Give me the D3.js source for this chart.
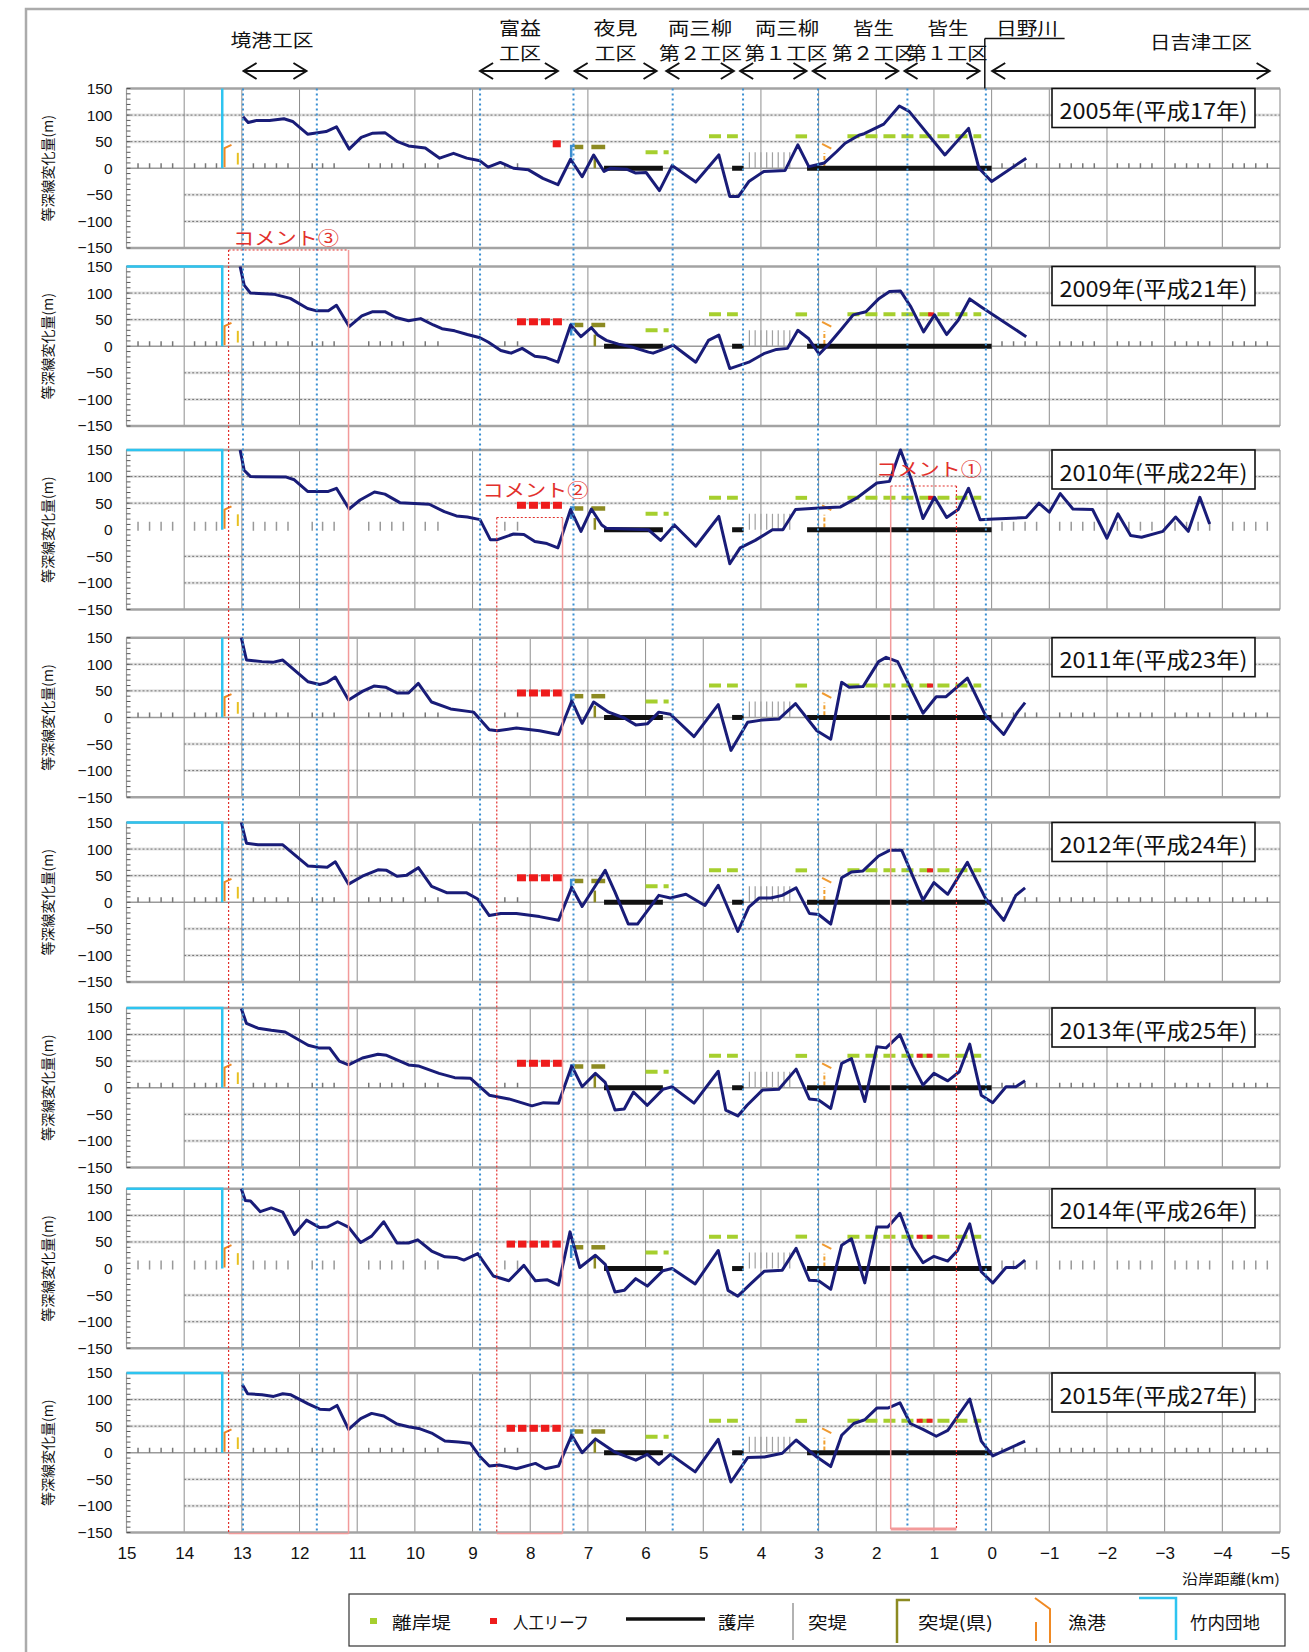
<!DOCTYPE html>
<html><head><meta charset="utf-8">
<script src="https://cdn.jsdelivr.net/npm/d3@7"></script>
<style>
body{margin:0;background:#fff}
svg{display:block}
text{font-family:"Noto Sans CJK JP","Noto Sans",sans-serif}
</style>
</head><body>
<svg id="c" width="1309" height="1652"></svg>
<script>
// ---------------- DATA ----------------
const years = ["2005年(平成17年)","2009年(平成21年)","2010年(平成22年)","2011年(平成23年)","2012年(平成24年)","2013年(平成25年)","2014年(平成26年)","2015年(平成27年)"];
const xTicks = [15,14,13,12,11,10,9,8,7,6,5,4,3,2,1,0,-1,-2,-3,-4,-5];
const yTicks = [150,100,50,0,-50,-100,-150];

// shoreline change [km, m]
const s2005 = [[12.98,97],[12.89,86],[12.74,90],[12.52,90],[12.27,93],[12.12,88],[11.86,64],[11.54,69],[11.36,78],[11.14,36],[10.93,58],[10.73,66],[10.52,67],[10.3,50],[10.11,42],[9.82,38],[9.57,19],[9.33,28],[9.1,19],[8.87,14],[8.73,2],[8.52,11],[8.29,0],[8.03,-3],[7.78,-19],[7.52,-31],[7.3,17],[7.1,-16],[6.9,25],[6.72,-6],[6.61,0],[6.32,-2],[6.17,-9],[5.99,-8],[5.76,-42],[5.54,5],[5.13,-26],[4.73,25],[4.54,-53],[4.39,-53],[4.21,-25],[3.95,-6],[3.58,-4],[3.36,44],[3.17,3],[2.9,10],[2.69,31],[2.54,47],[2.3,62],[2.21,65],[1.87,83],[1.6,117],[1.43,107],[0.81,25],[0.4,75],[0.22,0],[0.0,-25],[-0.6,19]];
const s2009 = [[13.03,150],[12.96,115],[12.85,100],[12.45,98],[12.16,90],[11.86,71],[11.72,67],[11.5,67],[11.36,77],[11.14,37],[10.92,57],[10.73,65],[10.52,65],[10.33,54],[10.11,48],[9.9,52],[9.68,40],[9.53,33],[9.31,29],[9.09,22],[8.87,16],[8.73,8],[8.51,-8],[8.33,-13],[8.14,-4],[7.92,-19],[7.74,-21],[7.52,-30],[7.3,40],[7.12,18],[6.94,35],[6.83,21],[6.68,11],[6.47,4],[6.25,-1],[5.95,-11],[5.87,-13],[5.65,-4],[5.52,2],[5.13,-30],[4.91,11],[4.73,21],[4.54,-42],[4.21,-30],[3.95,-14],[3.73,-6],[3.54,-4],[3.36,30],[3.17,14],[2.99,-15],[2.84,2],[2.62,30],[2.4,59],[2.18,65],[1.95,90],[1.77,103],[1.58,104],[1.4,74],[1.18,27],[0.99,59],[0.78,22],[0.58,49],[0.38,89],[0.18,74],[-0.6,18]];
const s2010 = [[13.03,150],[12.96,112],[12.85,100],[12.23,99],[12.09,94],[11.86,72],[11.5,72],[11.36,78],[11.14,39],[10.95,56],[10.7,71],[10.52,67],[10.26,51],[9.75,48],[9.49,34],[9.28,26],[9.09,24],[8.87,19],[8.69,-19],[8.58,-19],[8.29,-8],[8.11,-9],[7.92,-22],[7.71,-26],[7.52,-34],[7.3,38],[7.12,-3],[6.94,39],[6.76,9],[6.68,3],[5.95,0],[5.74,-20],[5.5,9],[5.13,-31],[4.73,25],[4.54,-64],[4.36,-34],[4.1,-20],[3.8,0],[3.62,0],[3.4,38],[2.99,41],[2.62,43],[2.32,61],[1.99,88],[1.77,91],[1.58,150],[1.4,97],[1.19,21],[0.99,61],[0.78,23],[0.58,38],[0.4,78],[0.2,19],[-0.04,20],[-0.6,23],[-0.82,50],[-1.0,33],[-1.19,68],[-1.41,39],[-1.75,38],[-2.0,-16],[-2.19,30],[-2.41,-11],[-2.6,-14],[-2.97,-3],[-3.19,24],[-3.41,-3],[-3.61,61],[-3.78,11]];
const s2011 = [[13.01,150],[12.92,108],[12.65,105],[12.45,104],[12.29,108],[11.85,67],[11.65,62],[11.52,66],[11.38,76],[11.15,33],[10.91,49],[10.71,59],[10.51,57],[10.31,46],[10.11,46],[9.94,64],[9.71,29],[9.38,16],[8.98,10],[8.71,-23],[8.57,-25],[8.24,-20],[7.84,-25],[7.51,-32],[7.28,31],[7.1,-11],[6.9,29],[6.64,10],[6.37,-1],[6.17,-14],[5.97,-12],[5.77,10],[5.57,6],[5.16,-36],[4.74,24],[4.52,-62],[4.23,-9],[3.99,-5],[3.69,-3],[3.4,26],[3.03,-25],[2.79,-41],[2.6,66],[2.47,57],[2.23,58],[1.96,105],[1.83,113],[1.63,105],[1.19,8],[0.96,39],[0.79,39],[0.42,74],[0.11,5],[-0.21,-32],[-0.45,10],[-0.58,28]];
const s2012 = [[13.01,150],[12.92,111],[12.72,108],[12.29,108],[11.85,68],[11.52,66],[11.38,76],[11.15,34],[10.91,49],[10.64,61],[10.49,60],[10.31,49],[10.14,51],[9.94,65],[9.71,30],[9.45,18],[9.11,18],[8.91,6],[8.71,-25],[8.51,-21],[8.24,-21],[7.84,-27],[7.51,-34],[7.28,28],[7.1,-8],[6.7,60],[6.53,19],[6.3,-41],[6.14,-41],[5.77,13],[5.57,8],[5.3,15],[4.97,-6],[4.74,32],[4.4,-55],[4.21,-9],[4.03,8],[3.83,8],[3.63,13],[3.39,27],[3.16,-21],[3.0,-23],[2.79,-41],[2.6,46],[2.43,57],[2.23,59],[1.96,87],[1.76,98],[1.56,98],[1.19,4],[1.0,37],[0.76,15],[0.42,75],[0.11,8],[-0.21,-34],[-0.42,13],[-0.58,27]];
const s2013 = [[13.01,149],[12.92,121],[12.72,112],[12.49,108],[12.25,105],[11.85,80],[11.67,75],[11.48,75],[11.31,50],[11.15,43],[10.91,56],[10.64,63],[10.49,61],[10.11,43],[9.94,41],[9.58,27],[9.31,19],[9.04,18],[8.71,-14],[8.37,-21],[7.97,-34],[7.77,-28],[7.51,-29],[7.28,41],[7.1,2],[6.87,27],[6.7,10],[6.53,-42],[6.37,-40],[6.21,-8],[5.97,-33],[5.7,-3],[5.54,2],[5.16,-29],[4.74,31],[4.61,-42],[4.4,-53],[4.24,-33],[3.97,-4],[3.69,-3],[3.39,35],[3.16,-21],[3.0,-23],[2.79,-39],[2.6,46],[2.43,55],[2.2,-26],[1.99,77],[1.83,75],[1.59,100],[1.37,43],[1.19,5],[1.0,27],[0.76,13],[0.56,30],[0.38,82],[0.18,-14],[-0.02,-28],[-0.25,2],[-0.42,2],[-0.58,13]];
const s2014 = [[13.01,150],[12.94,128],[12.85,127],[12.68,107],[12.49,114],[12.29,106],[12.09,64],[11.88,91],[11.65,77],[11.52,78],[11.34,88],[11.15,78],[10.94,49],[10.75,61],[10.54,88],[10.31,48],[10.11,48],[9.95,54],[9.71,33],[9.48,22],[9.28,21],[9.15,16],[8.91,28],[8.64,-14],[8.37,-23],[8.11,6],[7.91,-23],[7.71,-21],[7.51,-31],[7.31,69],[7.14,2],[6.87,25],[6.7,8],[6.53,-44],[6.37,-41],[6.17,-19],[5.97,-33],[5.7,-4],[5.54,0],[5.14,-29],[4.74,34],[4.57,-41],[4.4,-52],[4.17,-28],[3.94,-5],[3.63,-3],[3.39,38],[3.16,-22],[3.0,-23],[2.79,-39],[2.6,44],[2.43,56],[2.2,-27],[1.99,78],[1.8,78],[1.59,104],[1.37,41],[1.19,11],[1.0,23],[0.76,14],[0.59,34],[0.38,84],[0.18,-6],[-0.02,-27],[-0.25,2],[-0.42,2],[-0.58,16]];
const s2015 = [[12.99,128],[12.9,111],[12.65,109],[12.45,106],[12.29,111],[12.15,109],[11.85,92],[11.65,82],[11.48,81],[11.35,89],[11.15,44],[10.94,64],[10.75,74],[10.54,69],[10.31,54],[10.11,49],[9.91,45],[9.71,37],[9.48,22],[9.24,20],[9.04,18],[8.88,-6],[8.71,-25],[8.54,-23],[8.24,-30],[7.91,-20],[7.74,-30],[7.51,-25],[7.28,33],[7.1,0],[6.87,26],[6.53,1],[6.17,-14],[5.97,-3],[5.77,-22],[5.57,-3],[5.14,-36],[4.74,25],[4.52,-55],[4.23,-9],[3.94,-8],[3.63,-1],[3.39,24],[3.03,-8],[2.79,-26],[2.6,33],[2.39,55],[2.2,62],[1.99,84],[1.8,84],[1.59,94],[1.41,55],[1.19,44],[0.96,31],[0.76,42],[0.38,101],[0.18,22],[-0.02,-6],[-0.58,22]];
const series = [s2005,s2009,s2010,s2011,s2012,s2013,s2014,s2015];

// structures (km / m)
const breakwaters = [[4.9,4.4,60],[3.4,3.2,60],[2.5,0.18,60],[6.0,5.6,30]];   // 離岸堤
const reefSpan = [[7.61,7.47],[8.23,7.45],[8.23,7.45],[8.23,7.45],[8.23,7.45],[8.23,7.45],[8.41,7.47],[8.41,7.47]]; // 人工リーフ
const reefCount = [1,4,4,4,4,4,5,5];
const reefLevel = 46;
const reefKaike = [null,[1.1,1.0],[1.1,1.0],[1.12,0.99],[1.12,0.99],[1.3,0.98],[1.3,0.98],[1.3,0.98]];
const seawalls = [[6.72,5.7],[4.5,4.3],[3.2,0.0]];  // 護岸
const groins = [14.8,14.6,14.4,14.2,13.82,13.63,13.44,12.8,12.6,12.4,12.2,11.78,11.6,11.4,10.8,10.6,10.4,10.2,9.82,9.6,8.44,8.22,
  -0.18,-0.38,-0.58,-0.78,-1.18,-1.38,-1.58,-1.78,-2.18,-2.38,-2.58,-2.78,-3.18,-3.38,-3.58,-3.78,-4.18,-4.38,-4.58,-4.78]; // 突堤
const tallGroins = [4.2,4.1,4.0,3.9,3.8,3.7,3.6,3.5];
const prefGroins = [[7.23,7.08,40],[6.94,6.7,40]];  // 突堤(県)
const prefGroinStem = [6.88,22];
const takeuchiKm = 13.34;                       // 竹内団地
const takeuchiTop = [false,true,true,false,true,true,true,true];
const zeroLine = [true,true,false,true,true,true,false,true];
const sectionBounds = [12.98,11.7,8.87,7.25,5.53,4.31,3.01,1.46,0.1];
const gridA = [14,13,12,10,9,7,4,3,2,1,0,-1,-2,-3,-4];
const gridB = [14,13,12,11,10,9,8,7,6,5,4,3,2,1,0,-1,-2,-3,-4];
const vGrid = [gridA,gridA,gridA,gridB,gridB,gridB,gridB,gridB];
const sectionArrows = [[12.97,11.88],[8.87,7.52],[7.23,5.81],[5.64,4.47],[4.36,3.21],[3.1,1.62],[1.51,0.21],[-0.01,-4.82]];
const commentBoxes = [[13.23,11.15,"コメント③"],[8.58,7.44,"コメント②"],[1.75,0.61,"コメント①"]];
const legendItems = ["離岸堤","人工リーフ","護岸","突堤","突堤(県)","漁港","竹内団地"];

// ---------------- LAYOUT ----------------
const svg = d3.select('#c');
const X0 = 126.5, X1 = 1280;
const x = d3.scaleLinear().domain([15,-5]).range([X0,X1]);
const tops = [88.5,266.5,450,637.7,822.5,1008,1188.8,1373];
const PH = 159.5;
const NAVY = '#191c78';
const NUMFONT = '"Liberation Sans","DejaVu Sans",sans-serif';

// outer frame
svg.append('rect').attr('x',26).attr('y',9).attr('width',1330).attr('height',1700)
  .attr('fill','none').attr('stroke','#ababab').attr('stroke-width',2.5);

function seg(g,x1,y1,x2,y2,stroke,w,dash){
  const l = g.append('line').attr('x1',x1).attr('y1',y1).attr('x2',x2).attr('y2',y2)
    .attr('stroke',stroke).attr('stroke-width',w);
  if(dash) l.attr('stroke-dasharray',dash);
  return l;
}

series.forEach((data,i)=>{
  const top = tops[i], bot = top+PH;
  const y = d3.scaleLinear().domain([-150,150]).range([bot,top]);
  const g = svg.append('g');

  // horizontal grid
  [100,50,-50,-100].forEach(v=>{
    const xs = v>0 ? x(15) : x(14);
    seg(g,xs,y(v),X1,y(v),'#e4e4e4',3);
    seg(g,xs,y(v),X1,y(v),'#6f6f6f',1,'2,2');
  });
  // vertical grid
  vGrid[i].forEach(k=> seg(g,x(k),top,x(k),bot,'#8e8e8e',1));
  // zero line
  if(zeroLine[i]){
    seg(g,X0,y(0),X1,y(0),'#9a9a9a',1.6);
  }
  // borders
  seg(g,X0,top,X1,top,'#a3a3a3',2.5);
  seg(g,X0,bot,X1,bot,'#a3a3a3',2.5);
  seg(g,X0,top,X0,bot,'#9a9a9a',1.2);
  seg(g,X1,top,X1,bot,'#9a9a9a',1.2);

  // y axis
  const ax = d3.axisLeft(y).tickValues(yTicks).tickSize(0).tickPadding(14);
  const ag = g.append('g').attr('transform',`translate(${X0},0)`).call(ax);
  ag.select('.domain').remove();
  ag.selectAll('text').attr('font-size',15.5).attr('fill','#111')
    .style('font-family',NUMFONT);
  d3.range(-150,151,10).forEach(v=> seg(g,X0,y(v),X0+4,y(v),'#555',1));

  // y title
  g.append('text').attr('transform',`translate(47,${top+PH/2}) rotate(-90)`)
    .attr('text-anchor','middle').attr('dominant-baseline','central')
    .attr('font-size',14).attr('fill','#111').text('等深線変化量(m)');

  // groins
  groins.forEach(k=>{
    if(zeroLine[i]) seg(g,x(k),y(0),x(k),y(0)-5,'#777',1.5);
    else seg(g,x(k),y(0)+1,x(k),y(0)-8,'#999',1.5);
  });
  tallGroins.forEach(k=> seg(g,x(k),y(0),x(k),y(30),'#a0a0a0',1.2));

  // 竹内団地
  const cp = takeuchiTop[i]
    ? `M${x(15)},${y(150)}H${x(takeuchiKm)}V${y(0)}`
    : `M${x(takeuchiKm)},${y(150)}V${y(0)}`;
  g.append('path').attr('d',cp).attr('fill','none').attr('stroke','#2ec4f0').attr('stroke-width',2.5);

  // 漁港
  g.append('path').attr('d',`M${x(13.3)},${y(2)}V${y(38)}L${x(13.18)},${y(44)}`)
    .attr('fill','none').attr('stroke','#f08a24').attr('stroke-width',2);
  seg(g,x(13.07),y(7),x(13.07),y(29),'#e8c020',2);
  seg(g,x(2.94),y(46),x(2.78),y(37),'#f09a30',2);
  seg(g,x(2.9),y(4),x(2.9),y(28),'#f0a030',2,'4,2');

  // blue small groin near 7.29
  g.append('path').attr('d',`M${x(7.29)},${y(20)}V${y(42)}H${x(7.22)}`)
    .attr('fill','none').attr('stroke','#3c8fd0').attr('stroke-width',2.5);

  // 突堤(県)
  prefGroins.forEach(d=> seg(g,x(d[0]),y(d[2]),x(d[1]),y(d[2]),'#8c8a22',4.5));
  seg(g,x(prefGroinStem[0]),y(0),x(prefGroinStem[0]),y(prefGroinStem[1]),'#8c8a22',2.5);

  // 離岸堤
  breakwaters.forEach(d=> seg(g,x(d[0]),y(d[2]),x(d[1]),y(d[2]),'#a6cf2e',4,'12,6'));

  // 人工リーフ
  const rs = reefSpan[i], n = reefCount[i];
  const span = x(rs[1]) - x(rs[0]);
  const w = n===1 ? span : (span - (n-1)*3)/n;
  for(let k=0;k<n;k++){
    g.append('rect').attr('x',x(rs[0]) + k*(w+3)).attr('y',y(reefLevel)-3.5)
      .attr('width',w).attr('height',7).attr('fill','#ee1c1c');
  }
  if(reefKaike[i]){
    seg(g,x(reefKaike[i][0]),y(60),x(reefKaike[i][1]),y(60),'#e82020',4,'6,4');
  }

  // 護岸
  seawalls.forEach(d=> seg(g,x(d[0]),y(0),x(d[1]),y(0),'#111',5));

  // data line
  g.append('path').datum(data)
    .attr('d',d3.line().x(d=>x(d[0])).y(d=>y(d[1])))
    .attr('fill','none').attr('stroke',NAVY).attr('stroke-width',3)
    .attr('stroke-linejoin','round');

  // year label box
  g.append('rect').attr('x',1052).attr('y',top).attr('width',203).attr('height',39)
    .attr('fill','#fff').attr('stroke','#111').attr('stroke-width',1.6);
  g.append('text').attr('x',1153.5).attr('y',top+20.5).attr('text-anchor','middle')
    .attr('dominant-baseline','central').attr('font-size',22).attr('fill','#111')
    .attr('textLength',188).attr('lengthAdjust','spacingAndGlyphs').text(years[i]);
});

// section boundary dotted lines
sectionBounds.forEach(k=> seg(svg,x(k),tops[0],x(k),tops[7]+PH,'#3b8fd2',2,'2,3'));

// comment boxes
const RED='#e2302c', PINK='#f29a9a';
const cTops = [250,517.5,486], cBots=[1533.5,1533.5,1529];
commentBoxes.forEach((c,j)=>{
  const xl=x(c[0]), xr=x(c[1]), t=cTops[j], b=cBots[j];
  if(j<2){
    seg(svg,xl,t,xl,b,RED,1.2,'2,2');
    seg(svg,xl,t,xr,t,RED,1.2,'2,2');
    seg(svg,xr,t,xr,b,PINK,1.5);
    seg(svg,xl,b,xr,b,PINK,1.5);
  } else {
    seg(svg,xl,t,xl,b,PINK,1.5);
    seg(svg,xl,t,xr,t,RED,1.2,'2,2');
    seg(svg,xr,t,xr,b,RED,1.2,'2,2');
    seg(svg,xl,b,xr,b,PINK,3);
  }
});
const cLabelPos = [[286,237],[535.5,489],[929,468]];
commentBoxes.forEach((c,j)=>{
  svg.append('text').attr('x',cLabelPos[j][0]).attr('y',cLabelPos[j][1])
    .attr('text-anchor','middle').attr('dominant-baseline','central')
    .attr('font-size',18).attr('fill',RED).attr('textLength',106)
    .attr('lengthAdjust','spacingAndGlyphs').text(c[2]);
});

// section header
const AY = 71;
sectionArrows.forEach(a=>{
  const x1=x(a[0]), x2=x(a[1]);
  svg.append('path').attr('d',`M${x1},${AY}H${x2}M${x1+13},${AY-8}L${x1},${AY}L${x1+13},${AY+8}M${x2-13},${AY-8}L${x2},${AY}L${x2-13},${AY+8}`)
    .attr('fill','none').attr('stroke','#111').attr('stroke-width',2);
});
const headerTexts = [
  ["境港工区",272,39,83],["富益",520,26.5,42],["工区",520,51.5,42],["夜見",615.6,26.5,44],["工区",615.6,51.5,42],
  ["両三柳",700,26.5,64],["両三柳",787,26.5,64],["皆生",873.6,26.5,41],["皆生",948,26.5,41],
  ["日野川",1027,26.5,62],["日吉津工区",1201,41,102],
  ["第２工区",700.5,51.5,83],["第１工区",786,51.5,83],["第２工区",873.5,51.5,83],["第１工区",947,51.5,81]
];
headerTexts.forEach(h=>{
  svg.append('text').attr('x',h[1]).attr('y',h[2]).attr('text-anchor','middle')
    .attr('dominant-baseline','central').attr('font-size',18).attr('fill','#111')
    .attr('textLength',h[3]).attr('lengthAdjust','spacingAndGlyphs').text(h[0]);
});
seg(svg,984.8,38.5,1064.6,38.5,'#111',1.5);
seg(svg,984.8,38.5,984.8,tops[0],'#111',1.5);

// x axis
const xa = d3.axisBottom(x).tickValues(xTicks).tickSize(0).tickPadding(14).tickFormat(d3.format('d'));
const xg = svg.append('g').attr('transform',`translate(0,${tops[7]+PH})`).call(xa);
xg.select('.domain').remove();
xg.selectAll('text').attr('font-size',17).attr('fill','#111')
  .style('font-family',NUMFONT);
svg.append('text').attr('x',1280).attr('y',1578).attr('text-anchor','end')
  .attr('dominant-baseline','central').attr('font-size',14).attr('fill','#111')
  .attr('textLength',98).attr('lengthAdjust','spacingAndGlyphs').text('沿岸距離(km)');

// legend
svg.append('rect').attr('x',349).attr('y',1594).attr('width',936).attr('height',52)
  .attr('fill','#fff').attr('stroke','#333').attr('stroke-width',1.2);
const LY = 1621;
svg.append('rect').attr('x',370).attr('y',LY-3).attr('width',7).attr('height',6).attr('fill','#a6cf2e');
svg.append('rect').attr('x',490).attr('y',LY-3).attr('width',7).attr('height',6).attr('fill','#ee1c1c');
seg(svg,626,LY-2,705,LY-2,'#111',3.5);
seg(svg,793,1603,793,1640,'#999',1.5);
svg.append('path').attr('d',`M897,1643V1600H910`).attr('fill','none').attr('stroke','#8c8a22').attr('stroke-width',2.5);
svg.append('path').attr('d',`M1035,1598L1050,1609V1643`).attr('fill','none').attr('stroke','#f08a24').attr('stroke-width',2);
seg(svg,1036,1622,1036,1641,'#f08a24',2);
svg.append('path').attr('d',`M1139,1598H1176V1640`).attr('fill','none').attr('stroke','#2ec4f0').attr('stroke-width',2.5);
const legPos = [[392,59],[513,76],[718,37],[808,39],[918,75],[1068,38],[1190,70]];
legendItems.forEach((t,j)=>{
  svg.append('text').attr('x',legPos[j][0]).attr('y',LY).attr('dominant-baseline','central')
    .attr('font-size',17).attr('fill','#111').attr('textLength',legPos[j][1])
    .attr('lengthAdjust','spacingAndGlyphs').text(t);
});
</script>
</body></html>
